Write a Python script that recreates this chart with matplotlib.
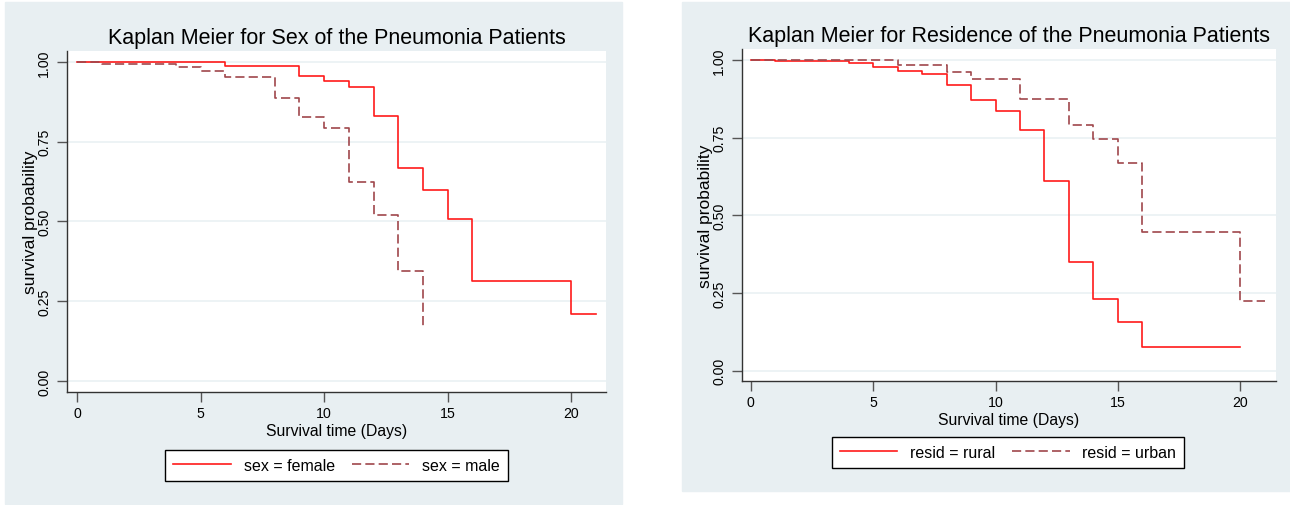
import matplotlib.pyplot as plt
from matplotlib.patches import Rectangle

plt.rcParams['font.family'] = ['Liberation Sans', 'DejaVu Sans']

# Kaplan-Meier estimates (day, survival)
female_t = [0, 6, 9, 10, 11, 12, 13, 14, 15, 16, 20, 21]
female_s = [1.0, 0.988, 0.957, 0.940, 0.922, 0.832, 0.667, 0.599, 0.508, 0.314, 0.209, 0.209]
male_t = [0, 1, 4, 5, 6, 8, 9, 10, 11, 12, 13, 14]
male_s = [1.0, 0.994, 0.985, 0.973, 0.954, 0.886, 0.828, 0.792, 0.625, 0.521, 0.346, 0.171]

rural_t = [0, 1, 4, 5, 6, 7, 8, 9, 10, 11, 12, 13, 14, 15, 16, 20]
rural_s = [1.0, 0.996, 0.989, 0.977, 0.963, 0.954, 0.920, 0.871, 0.834, 0.775, 0.610, 0.349,
           0.231, 0.156, 0.077, 0.077]
urban_t = [0, 6, 8, 9, 11, 13, 14, 15, 16, 20, 21]
urban_s = [1.0, 0.983, 0.962, 0.937, 0.875, 0.792, 0.744, 0.668, 0.447, 0.223, 0.223]

xticks = [0, 5, 10, 15, 20]
yticks = [0.0, 0.25, 0.5, 0.75, 1.0]
ytick_labels = ['0.00', '0.25', '0.50', '0.75', '1.00']

W, H = 1290, 506
BG = '#e8eff2'
RED = '#ff1a1a'
MAROON = '#a0474c'


def px(x0, y0, x1, y1):
	# pixel box (top-left origin) -> figure fraction [l, b, w, h]
	return [x0 / W, 1 - y1 / H, (x1 - x0) / W, (y1 - y0) / H]


fig = plt.figure(figsize=(W / 100, H / 100), dpi=100)
for box in [(5, 3, 622, 505), (682, 3, 1290, 492)]:
	l, b, w, h = px(*box)
	fig.patches.append(Rectangle((l, b), w, h, transform=fig.transFigure, color=BG, zorder=-5))


def km_panel(box, ylim, xlim, title, curves, legend_center):
	ax = fig.add_axes(px(*box))
	ax.set_facecolor('white')
	for t, s, lab, col, ls in curves:
		ax.step(t, s, where='post', color=col, lw=1.2, linestyle=ls, label=lab)
	ax.set_xlim(*xlim)
	ax.set_ylim(*ylim)
	ax.set_xticks(xticks)
	ax.set_yticks(yticks)
	ax.set_yticklabels(ytick_labels, rotation=90, va='center')
	ax.grid(axis='y', color='#eaf1f3', lw=1.2)
	ax.set_axisbelow(True)
	for side in ['top', 'right']:
		ax.spines[side].set_visible(False)
	for side in ['left', 'bottom']:
		ax.spines[side].set_color('#333333')
		ax.spines[side].set_linewidth(1.0)
	ax.tick_params(length=7, width=1.0, color='#555555', labelsize=10.2, pad=3)
	ax.tick_params(axis='y', pad=4.5)
	ax.set_xlabel('Survival time (Days)', fontsize=11.3, labelpad=2)
	ax.set_ylabel('survival probability', fontsize=12.5, labelpad=-1)
	ax.set_title(title, fontsize=15.5, pad=6)
	h, l = ax.get_legend_handles_labels()
	fig.legend(h, l, loc='center', ncol=2, bbox_to_anchor=(legend_center[0] / W, 1 - legend_center[1] / H),
			   frameon=True, fancybox=False, edgecolor='black', framealpha=1, fontsize=11.5,
			   handlelength=3.6, columnspacing=1.05, borderpad=0.5)
	return ax


km_panel((67, 52, 606, 393), (-0.0345, 1.0345), (-0.4, 21.4),
		 'Kaplan Meier for Sex of the Pneumonia Patients',
		 [(female_t, female_s, 'sex = female', RED, '-'),
		  (male_t, male_s, 'sex = male', MAROON, (0, (5.5, 2.5)))],
		 (336.5, 466.5))

km_panel((742, 50, 1276, 382), (-0.033, 1.035), (-0.36, 21.46),
		 'Kaplan Meier for Residence of the Pneumonia Patients',
		 [(rural_t, rural_s, 'resid = rural', RED, '-'),
		  (urban_t, urban_s, 'resid = urban', MAROON, (0, (5.5, 2.5)))],
		 (1008, 453.5))

plt.savefig('out.png', dpi=100)
